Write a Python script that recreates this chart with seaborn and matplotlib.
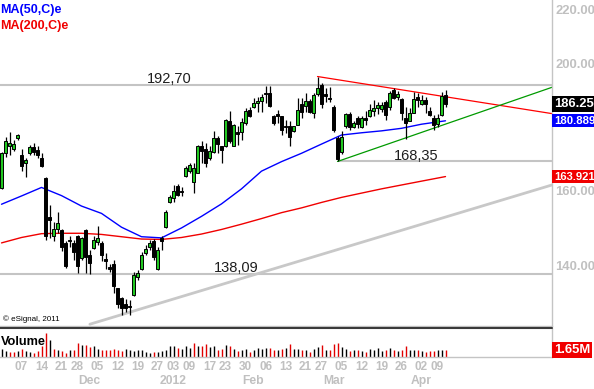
import numpy as np
import pandas as pd
import seaborn as sns
import matplotlib
matplotlib.use("Agg")
import matplotlib.pyplot as plt
from matplotlib.lines import Line2D
from matplotlib.ticker import NullLocator, FuncFormatter

# trading days shown (US market holidays left out)
holidays = ["2011-11-24", "2011-12-26", "2012-01-02", "2012-01-16",
            "2012-02-20", "2012-04-06"]
dates = pd.bdate_range("2011-10-31", "2012-04-11", freq="C", holidays=holidays)

opens = [160.7, 170.8, 173.1, 172.0, 175.4, 170.3, 167.9, 171.0, 172.6, 171.8,
         169.5, 163.4, 152.7, 147.7, 149.4, 149.2, 145.7, 146.6, 145.9, 147.6,
         141.9, 149.2, 142.7, 144.5, 146.0, 145.7, 141.7, 139.8, 140.4, 134.6,
         132.2, 130.9, 130.4, 133.0, 137.4, 139.2, 143.1, 144.7, 146.4, 139.2,
         147.0, 149.9, 156.8, 157.7, 161.2, 159.9, 164.0, 165.6, 162.4, 165.1,
         172.9, 172.1, 169.3, 171.3, 175.4, 172.9, 172.9, 180.9, 173.0, 177.2,
         177.2, 180.2, 184.3, 185.3, 186.6, 187.4, 190.1, 190.1, 182.3, 183.0,
         182.3, 179.3, 179.3, 177.8, 179.6, 186.3, 185.8, 187.4, 183.3, 189.6,
         192.7, 189.5, 188.3, 185.5, 175.5, 171.3, 179.1, 183.0, 178.8, 181.9,
         178.8, 181.7, 182.5, 184.0, 185.0, 184.8, 187.1, 185.5, 191.0, 188.6,
         188.0, 181.8, 180.7, 183.5, 188.8, 186.3, 187.7, 183.9, 181.7, 179.9,
         182.8, 189.3]
highs = [171.2, 175.8, 177.2, 174.9, 176.6, 172.1, 169.3, 173.3, 173.8, 172.9,
         170.8, 163.7, 155.9, 151.4, 154.1, 149.4, 146.2, 147.5, 146.6, 147.8,
         147.3, 149.4, 144.0, 147.5, 150.1, 146.2, 143.1, 140.4, 141.5, 134.6,
         132.4, 132.0, 131.8, 138.6, 139.0, 143.5, 145.3, 146.6, 146.8, 144.8,
         147.5, 154.5, 158.7, 161.5, 161.8, 161.0, 167.0, 167.8, 167.8, 173.3,
         174.6, 173.8, 172.9, 177.8, 176.1, 173.0, 181.4, 183.9, 179.8, 179.1,
         181.8, 185.0, 185.5, 188.2, 188.8, 189.5, 192.4, 192.4, 182.8, 184.4,
         182.3, 181.2, 180.7, 179.3, 188.2, 188.2, 190.0, 187.9, 190.0, 195.6,
         193.3, 191.6, 192.1, 186.0, 176.0, 177.6, 183.3, 183.6, 180.7, 182.5,
         182.3, 183.9, 186.3, 187.7, 187.1, 187.1, 187.7, 190.5, 191.8, 190.6,
         188.4, 185.5, 185.0, 190.4, 190.0, 189.3, 188.8, 185.5, 182.8, 183.1,
         190.4, 191.0]
lows = [160.5, 169.8, 170.3, 171.6, 175.0, 165.4, 163.8, 170.3, 170.3, 169.4,
        166.8, 146.6, 147.1, 146.2, 148.3, 143.8, 139.4, 144.8, 141.5, 138.2,
        141.5, 138.2, 137.9, 144.3, 145.3, 141.1, 139.3, 138.6, 133.4, 129.9,
        128.4, 129.1, 128.4, 132.8, 136.6, 139.0, 142.7, 144.0, 141.5, 139.0,
        144.0, 149.7, 156.5, 156.6, 158.5, 158.4, 163.8, 165.0, 159.2, 165.0,
        167.8, 166.8, 168.9, 170.8, 170.8, 168.0, 172.7, 173.8, 173.0, 173.3,
        174.9, 179.6, 182.2, 185.0, 183.8, 183.8, 186.6, 185.5, 179.6, 180.2,
        176.4, 176.9, 173.0, 177.5, 179.6, 181.7, 183.8, 183.5, 181.7, 189.0,
        185.0, 187.0, 187.0, 177.5, 168.35, 170.5, 178.6, 178.0, 178.5, 178.6,
        178.6, 179.6, 182.0, 182.3, 183.0, 183.8, 181.2, 184.4, 187.9, 187.5,
        181.2, 175.3, 180.7, 183.3, 185.5, 186.0, 183.3, 182.3, 178.0, 179.0,
        182.3, 185.5]
closes = [170.9, 174.5, 173.8, 173.5, 176.4, 167.0, 168.7, 172.6, 171.3, 170.3,
          167.0, 147.6, 151.8, 149.4, 151.0, 144.8, 140.0, 146.2, 143.6, 140.0,
          147.0, 142.3, 140.8, 146.6, 147.0, 142.7, 141.3, 139.2, 135.0, 131.0,
          129.9, 129.9, 130.1, 137.8, 138.3, 142.7, 144.2, 145.9, 142.3, 144.0,
          146.2, 154.1, 158.2, 159.8, 158.7, 159.4, 166.3, 167.3, 166.3, 172.9,
          171.6, 168.0, 171.5, 175.4, 173.6, 171.8, 181.2, 174.5, 179.6, 176.6,
          180.5, 184.0, 182.5, 186.8, 187.4, 188.8, 189.6, 185.6, 180.2, 182.5,
          178.0, 178.9, 175.9, 179.1, 184.4, 183.8, 187.4, 183.8, 189.3, 191.6,
          186.2, 189.0, 188.0, 178.0, 169.1, 175.7, 183.0, 178.8, 180.2, 179.8,
          181.7, 181.2, 184.4, 185.0, 186.0, 186.0, 182.8, 190.0, 188.4, 189.6,
          183.3, 180.3, 183.3, 187.9, 187.7, 187.7, 186.3, 182.8, 179.6, 181.9,
          189.0, 186.25]
# volume in millions
volumes = [1.88, 1.36, 1.13, 1.13, 1.28, 1.88, 1.36, 1.13, 0.98, 1.28,
           2.41, 5.50, 3.77, 1.73, 1.66, 1.28, 0.90, 1.66, 1.66, 3.24,
           2.79, 2.64, 2.26, 2.41, 1.73, 1.51, 1.66, 1.51, 1.88, 1.66,
           1.36, 1.88, 1.66, 1.36, 1.51, 1.51, 1.13, 0.98, 1.13, 1.13,
           1.36, 1.66, 2.41, 2.41, 2.03, 1.88, 2.41, 2.03, 3.16, 2.41,
           2.41, 2.86, 2.26, 2.48, 1.66, 1.88, 2.64, 2.48, 1.73, 1.36,
           1.66, 1.88, 1.13, 1.66, 2.11, 1.88, 2.11, 2.11, 1.66, 1.66,
           1.88, 2.03, 3.01, 1.70, 1.70, 1.66, 1.51, 1.13, 1.88, 2.26,
           2.64, 1.66, 1.51, 2.86, 3.16, 2.26, 1.88, 1.36, 1.51, 1.51,
           1.36, 1.13, 1.88, 1.51, 2.03, 1.36, 1.51, 2.03, 1.66, 1.36,
           1.66, 2.41, 1.66, 1.51, 1.51, 1.36, 1.13, 1.36, 1.36, 1.51,
           1.66, 1.65]

# moving averages read at every 5th bar (and the last one)
ma_idx = [0, 5, 10, 15, 20, 25, 30, 35, 40, 45, 50, 55, 60, 65, 70, 75,
          80, 85, 90, 95, 100, 105, 111]
ma50 = [156.1, 158.4, 160.8, 158.5, 155.6, 153.6, 149.9, 147.4, 147.1, 149.7,
        152.8, 156.2, 160.4, 165.5, 168.3, 170.8, 173.6, 176.4, 177.1, 177.7,
        178.5, 179.8, 180.889]
ma200 = [145.8, 147.2, 148.2, 148.3, 148.3, 148.0, 147.4, 146.8, 146.7, 147.2,
         148.1, 149.3, 150.7, 152.2, 153.8, 155.1, 156.6, 158.0, 159.2, 160.4,
         161.5, 162.6, 163.921]

# drawn levels and trend lines (bar index, price)
levels = [192.70, 168.35, 138.09]
level_text = ["192,70", "168,35", "138,09"]
resist_x, resist_y = [79, 137.6], [195.6, 183.2]
support_x, support_y = [84, 137.6], [168.35, 191.9]
long_x, long_y = [22.1, 137.6], [126.3, 161.5]

sns.set_style("white")
plt.rcParams["font.family"] = ["Liberation Sans", "DejaVu Sans"]

W, H = 594, 389
fig = plt.figure(figsize=(W / 100, H / 100), dpi=100)
ax = fig.add_axes([0, 1 - 326 / H, 552 / W, 326 / H])
axv = fig.add_axes([0, 1 - 357 / H, 552 / W, 29 / H])

n = len(closes)
idx = np.arange(n)
dates = dates[:n]
o, hi, lo, c = map(np.array, (opens, highs, lows, closes))
up = c >= o

GRAY = "#c4c4c4"

# levels
ax.axhline(levels[0], color=GRAY, lw=1.5, zorder=1)
ax.axhline(levels[2], color=GRAY, lw=1.5, zorder=1)
ax.hlines(levels[1], 84, 140, color=GRAY, lw=1.5, zorder=1)
for lev, txt, xi in zip(levels, level_text, [41.9, 103.6, 58.6]):
    ax.text(xi, lev * 1.003, txt, ha="center", va="baseline", fontsize=10.5,
            color="#1e1e1e", zorder=5)

ax.plot(long_x, long_y, color="#c8c8c8", lw=2.0, zorder=1)

sns.lineplot(x=ma_idx, y=ma200, ax=ax, color="#f00000", lw=1.0, zorder=2)
sns.lineplot(x=ma_idx, y=ma50, ax=ax, color="#0000ff", lw=1.0, zorder=2)

ax.plot(resist_x, resist_y, color="#ff0000", lw=0.9, zorder=2)
ax.plot(support_x, support_y, color="#009a00", lw=0.9, zorder=2)

# candles
ax.vlines(idx, lo, hi, color="black", lw=0.9, zorder=3)
ax.bar(idx, np.maximum(np.abs(c - o), 0.12), bottom=np.minimum(o, c),
       width=0.62, color=np.where(up, "#22c822", "black"),
       edgecolor="black", linewidth=0.7, zorder=4)

ax.set_yscale("log")
ax.set_ylim(125.9, 223.9)
ax.set_xlim(-0.375, 137.625)
ax.yaxis.tick_right()
ax.set_yticks([140, 160, 200, 220])
ax.yaxis.set_minor_locator(NullLocator())
ax.yaxis.set_major_formatter(FuncFormatter(lambda v, p: f"{v:.2f}"))
ax.tick_params(axis="y", length=0, pad=2.5, labelsize=9.4, labelcolor="#c0c0c0")
for t in ax.get_yticklabels():
    t.set_fontweight("bold")
ax.set_xticks([])
for s in ["left", "top"]:
    ax.spines[s].set_visible(False)
for s in ["right", "bottom"]:
    ax.spines[s].set_color(GRAY)
    ax.spines[s].set_linewidth(1)


def value_box(axis, y, text, color, size=9.4):
    axis.text(1.0035, y, text, transform=axis.get_yaxis_transform(),
              ha="left", va="center", color="white", fontsize=size,
              fontweight="bold", clip_on=False, zorder=10,
              bbox=dict(boxstyle="square,pad=0.14", fc=color, ec="none"))


value_box(ax, closes[-1], f"{closes[-1]:.2f}", "black")
value_box(ax, ma50[-1], f"{ma50[-1]:.3f}", "#0000ff", 8.1)
value_box(ax, ma200[-1], f"{ma200[-1]:.3f}", "#f00000", 8.1)

ax.text(0.0, 1 - 10 / 326, "MA(50,C)e", transform=ax.transAxes, color="#0000ff",
        fontsize=9, fontweight="bold", ha="left", va="center")
ax.text(0.0, 1 - 25.5 / 326, "MA(200,C)e", transform=ax.transAxes, color="#f00000",
        fontsize=9, fontweight="bold", ha="left", va="center")
ax.text(0.005, 7 / 326, "\u00a9 eSignal, 2011", transform=ax.transAxes,
        fontsize=5.8, ha="left", va="center", color="black")

# volume
vol_col = ["black"] + ["#e00000" if c[i] < c[i - 1] else "black" for i in range(1, n)]
axv.vlines(idx, 0, volumes, colors=vol_col, lw=1.0)
axv.set_xlim(-0.375, 137.625)
axv.set_ylim(0, 6.55)
axv.set_yticks([])
for s in ["left", "top"]:
    axv.spines[s].set_visible(False)
for s in ["right", "bottom"]:
    axv.spines[s].set_color(GRAY)
    axv.spines[s].set_linewidth(1)
axv.text(0.002, 12 / 29, "Volume", transform=axv.transAxes, fontsize=9.2,
         fontweight="bold", ha="left", va="baseline", color="black")
value_box(axv, volumes[-1], f"{volumes[-1]:.2f}M", "#f00000")

wk = pd.Series(dates).dt.to_period("W")
week_first = np.flatnonzero(wk.ne(wk.shift()).values)[1:]
axv.set_xticks(week_first)
axv.set_xticklabels([dates[i].strftime("%d") for i in week_first])
axv.tick_params(axis="x", length=0, pad=3, labelsize=8.5, labelcolor="#c0c0c0")
for t in axv.get_xticklabels():
    t.set_fontweight("bold")

mon = pd.Series(dates).dt.month
month_first = [i for i in np.flatnonzero(mon.ne(mon.shift()).values) if i >= 10]
for i in month_first:
    lab = str(dates[i].year) if dates[i].month == 1 else dates[i].strftime("%b")
    axv.text(i, -24 / 29, lab, transform=axv.get_xaxis_transform(), ha="center",
             va="center", fontsize=8.7, fontweight="bold", color="#c0c0c0")

# separator between panels
fig.add_artist(Line2D([0, 552 / W], [1 - 327.8 / H] * 2, color="#3a3a3a", lw=1.5))

fig.savefig("out.png", dpi=100)
